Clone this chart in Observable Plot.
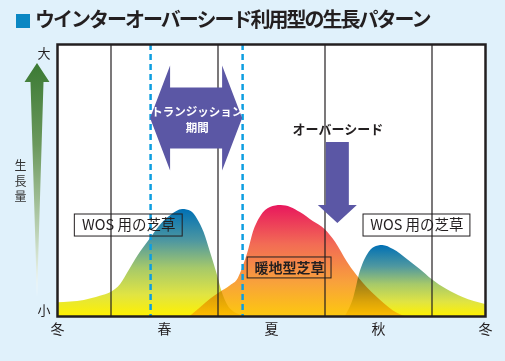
<!DOCTYPE html>
<html><head><meta charset="utf-8">
<script src="https://cdn.jsdelivr.net/npm/d3@7"></script>
<script src="https://cdn.jsdelivr.net/npm/@observablehq/plot@0.6"></script>
<style>
html,body{margin:0;padding:0;background:#e0f1fb;}
body{width:505px;height:361px;overflow:hidden;font-family:"Noto Sans CJK JP",sans-serif;}
#title{height:38px;box-sizing:border-box;padding:7px 0 0 16px;font-size:20px;letter-spacing:-2px;font-weight:bold;color:#231f20;white-space:nowrap;line-height:24px;}
#title .sq{display:inline-block;width:14px;height:14px;background:#0a87c3;margin-right:5px;vertical-align:-1px;}
#chart svg{display:block;}
</style></head>
<body>
<div id="title"><span class="sq"></span>ウインターオーバーシード利用型の生長パターン</div>
<div id="chart"></div>
<script>
// Season ticks
const seasons = ["冬", "春", "夏", "秋", "冬"];
const seasonTicks = [0, 1, 2, 3, 4];
// Grid lines between seasons
const gridLines = [0.5, 1.5, 2.5, 3.5];
// Transition period bounds (dashed lines)
const transitionBounds = [0.87, 1.73];

// WOS turf (spring) growth
const wos1X = [0, 0.25, 0.40, 0.50, 0.59, 0.68, 0.78, 0.87, 0.96, 1.06, 1.17, 1.25, 1.31, 1.37, 1.43, 1.49, 1.54, 1.62, 1.76];
const wos1Y = [5.1, 5.9, 7.4, 8.8, 11.8, 17.6, 23.9, 28.7, 33.5, 37.1, 39.3, 38.6, 35.7, 30.9, 23.5, 15.8, 8.8, 2.6, 0];
// Warm-season turf growth
const warmX = [1.24, 1.34, 1.43, 1.52, 1.62, 1.69, 1.74, 1.78, 1.83, 1.90, 1.99, 2.09, 2.18, 2.27, 2.39, 2.50, 2.60, 2.71, 2.86, 3.02, 3.18, 3.25];
const warmY = [0, 3.3, 6.3, 8.8, 11.4, 14.0, 18.8, 23.5, 30.9, 36.8, 40.1, 40.8, 40.1, 38.2, 34.9, 32.0, 27.2, 19.9, 12.1, 5.9, 1.1, 0];
// WOS turf (autumn) growth
const wos2X = [2.69, 2.77, 2.83, 2.90, 2.96, 3.04, 3.14, 3.27, 3.39, 3.50, 3.64, 3.79, 4.00];
const wos2Y = [0, 7.0, 16.5, 22.8, 25.4, 26.1, 24.6, 21.0, 17.3, 13.6, 9.9, 7.0, 4.4];

// Labels
const labelTexts = ["WOS 用の芝草", "WOS 用の芝草", "暖地型芝草"];
const labelX = [0.666, 3.359, 2.168];
const labelY = [33.5, 33.5, 17.8];
const boxX1 = [0.162, 2.860, 1.777];
const boxX2 = [1.170, 3.859, 2.561];
const boxY1 = [29.4, 29.4, 14.0];
const boxY2 = [37.5, 37.5, 21.7];

// Annotation anchors
const transitionY = 72.8;
const transitionLines = ["トランジッション", "期間"];
const transitionTextX = 1.305;
const transitionTextY = [75.0, 69.1];
const overseedText = "オーバーシード";
const overseedX = 2.62;
const overseedTextY = 68.8;
const overseedTop = 64.0;
const overseedTip = 34.2;
const growthArrow = {tip: 93.0, headBase: 86.0, bottom: 7.0};
const growthBig = 96.7, growthSmall = 2.2, growthLabelY = 50;

const zip = (xs, ys) => xs.map((x, i) => ({x, y: ys[i]}));
const wos1 = zip(wos1X, wos1Y);
const warm = zip(warmX, warmY);
const wos2 = zip(wos2X, wos2Y);
const labels = labelTexts.map((t, i) => ({t, x: labelX[i], y: labelY[i], x1: boxX1[i], x2: boxX2[i], y1: boxY1[i], y2: boxY2[i]}));

const purple = "#5b57a5";
const ink = "#231f20";
const FONT = '"Noto Sans CJK JP", sans-serif';

function defs() {
  const d = d3.create("svg:defs");
  const grad = (id, stops) => {
    const g = d.append("linearGradient").attr("id", id).attr("x1", 0).attr("y1", 0).attr("x2", 0).attr("y2", 1);
    stops.forEach(([o, c]) => g.append("stop").attr("offset", o).attr("stop-color", c));
  };
  grad("gWos", [[0, "#0070b5"], [0.3, "#4f98a0"], [0.55, "#a6c96a"], [0.8, "#e0e443"], [1, "#fff100"]]);
  grad("gWarm", [[0, "#e8175d"], [0.35, "#f26b55"], [0.7, "#f8a23b"], [1, "#fdc80f"]]);
  grad("gArrow", [[0, "#3b7a34"], [0.35, "#6b985c"], [0.75, "#c2d6bb"], [1, "#ffffff"]]);
  return d.node();
}

function arrows(index, scales) {
  const {x, y} = scales;
  const g = d3.create("svg:g").attr("fill", purple);
  // transition double arrow
  const x1 = x(transitionBounds[0]), x2 = x(transitionBounds[1]), cy = y(transitionY);
  const hl = 20, hh = 52.5, sh = 30.5;
  g.append("path").attr("d", `M${x1},${cy}L${x1+hl},${cy-hh}L${x1+hl},${cy-sh}L${x2-hl},${cy-sh}L${x2-hl},${cy-hh}L${x2},${cy}L${x2-hl},${cy+hh}L${x2-hl},${cy+sh}L${x1+hl},${cy+sh}L${x1+hl},${cy+hh}Z`);
  // overseed down arrow
  const ox = x(overseedX), top = y(overseedTop), tip = y(overseedTip);
  const sw = 11.5, hw = 19.5, hlen = 18;
  g.append("path").attr("d", `M${ox-sw},${top}L${ox+sw},${top}L${ox+sw},${tip-hlen}L${ox+hw},${tip-hlen}L${ox},${tip}L${ox-hw},${tip-hlen}L${ox-sw},${tip-hlen}Z`);
  return g.node();
}

function growthArrowMark(index, scales, values, dims) {
  const {y} = scales;
  const cx = dims.marginLeft - 20;
  const t = y(growthArrow.tip), hb = y(growthArrow.headBase), b = y(growthArrow.bottom);
  const g = d3.create("svg:g");
  g.append("path").attr("fill", "url(#gArrow)")
    .attr("d", `M${cx},${t}L${cx+12.5},${hb}L${cx+6.5},${hb}L${cx},${b}L${cx-6.5},${hb}L${cx-12.5},${hb}Z`);
  return g.node();
}

const chart = Plot.plot({
  width: 505, height: 323,
  marginTop: 6, marginBottom: 45, marginLeft: 57, marginRight: 20,
  style: {background: "transparent", fontFamily: FONT, color: ink, overflow: "visible"},
  x: {domain: [0, 4]},
  y: {domain: [0, 100], axis: null},
  marks: [
    defs,
    Plot.frame({fill: "white", stroke: null}),
    Plot.areaY(wos1, {x: "x", y: "y", fill: "url(#gWos)", curve: "monotone-x", mixBlendMode: "multiply"}),
    Plot.areaY(warm, {x: "x", y: "y", fill: "url(#gWarm)", curve: "monotone-x", mixBlendMode: "multiply"}),
    Plot.areaY(wos2, {x: "x", y: "y", fill: "url(#gWos)", curve: "monotone-x", mixBlendMode: "multiply"}),
    Plot.ruleX(gridLines, {stroke: ink, strokeWidth: 1.2}),
    Plot.ruleX(transitionBounds, {stroke: "#0e9ee0", strokeWidth: 2.5, strokeDasharray: "6,4"}),
    arrows,
    Plot.text(transitionLines, {x: () => transitionTextX, y: (d, i) => transitionTextY[i], text: d => d, fill: "white", fontSize: 11.5, fontWeight: "bold", letterSpacing: -1}),
    Plot.text([overseedText], {x: () => overseedX, y: () => overseedTextY, text: d => d, fill: ink, fontSize: 13, fontWeight: "bold", letterSpacing: -0.5}),
    Plot.rect(labels, {x1: "x1", x2: "x2", y1: "y1", y2: "y2", fill: "none", stroke: ink, strokeWidth: 1}),
    Plot.text(labels.slice(0, 2), {x: "x", y: "y", text: "t", fill: ink, fontSize: 14.5}),
    Plot.text(labels.slice(2), {x: "x", y: "y", text: "t", fill: ink, fontSize: 14, fontWeight: "bold"}),
    Plot.frame({stroke: ink, strokeWidth: 2.5}),
    growthArrowMark,
    Plot.text(["大", "小"], {frameAnchor: "left", dx: -20, y: (d, i) => [growthBig, growthSmall][i], text: d => d, fill: ink, fontSize: 13}),
    Plot.text(["生\n長\n量"], {frameAnchor: "left", dx: -43, y: () => growthLabelY, text: d => d, fill: "#333", fontSize: 12, lineHeight: 1.3}),
    Plot.axisX({ticks: seasonTicks, tickFormat: i => seasons[i], tickSize: 0, tickPadding: 8, fontSize: 14, label: null, fill: ink})
  ]
});
document.getElementById("chart").appendChild(chart);
</script>
</body></html>
